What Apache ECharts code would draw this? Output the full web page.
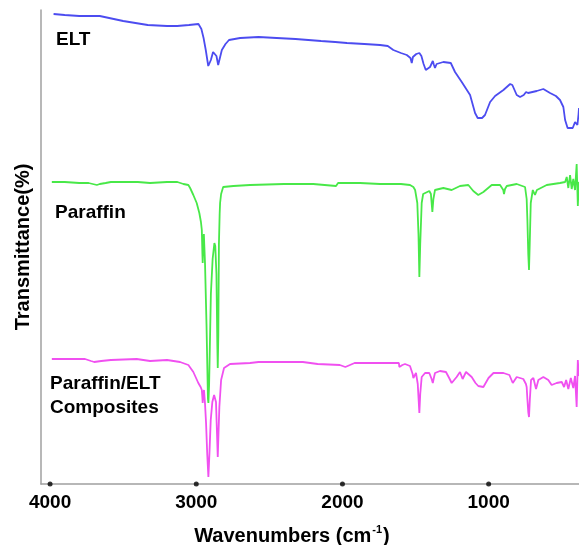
<!DOCTYPE html>
<html>
<head>
<meta charset="utf-8">
<script src="https://cdn.jsdelivr.net/npm/echarts@6/dist/echarts.min.js"></script>
<style>
html,body{margin:0;padding:0;background:#fff;}
#chart{width:579px;height:545px;}
</style>
</head>
<body>
<div id="chart"></div>
<script>
// Wavenumber ticks
var tickValues = [4000, 3000, 2000, 1000];

// ELT spectrum: [wavenumber, transmittance (a.u., offset)]
var eltData = [[3976,470],[3900,469],[3800,468],[3660,468],[3500,463],[3332,459],[3200,458],[3131,458],[3050,459],[2985,460],[2965,455],[2950,446],[2935,434],[2918,418],[2910,416],[2900,424],[2885,432],[2875,433],[2862,428],[2850,419],[2840,425],[2825,434],[2800,440],[2776,444],[2700,446],[2574,447],[2450,446],[2321,445],[2146,443],[2050,442],[1969,441],[1850,440],[1743,439],[1690,438],[1652,434],[1600,431],[1560,429],[1535,426],[1526,421],[1518,427],[1495,430],[1474,431],[1460,428],[1445,420],[1430,414],[1420,413],[1401,417],[1382,423],[1374,419],[1367,416],[1356,420],[1344,422],[1310,422],[1259,421],[1230,412],[1184,402],[1127,389],[1093,371],[1075,366],[1063,365],[1045,366],[1025,369],[990,382],[956,388],[899,394],[853,400],[838,399],[830,397],[808,389],[785,387],[760,389],[744,392],[730,391],[717,390],[671,393],[626,395],[580,391],[540,388],[512,384],[489,377],[477,364],[460,356],[448,355],[425,356],[409,362],[400,360],[393,359],[385,370],[382,376]];

// Paraffin spectrum
var paraffinData = [[3988,302],[3900,302],[3800,301],[3736,301],[3680,299],[3660,300],[3620,301],[3584,302],[3400,302],[3316,301],[3200,302],[3129,302],[3088,300],[3054,299],[3042,296],[3020,289],[2997,281],[2979,271],[2968,262],[2962,254],[2958,230],[2956,221],[2953,240],[2948,250],[2940,220],[2930,160],[2920,85],[2917,81],[2912,100],[2900,190],[2888,225],[2876,241],[2870,238],[2862,210],[2856,140],[2853,116],[2849,150],[2845,240],[2840,270],[2837,281],[2830,290],[2816,297],[2746,298],[2632,299],[2400,300],[2200,300],[2044,298],[2030,301],[1880,301],[1743,300],[1600,300],[1538,299],[1515,297],[1503,294],[1488,281],[1480,250],[1474,207],[1468,240],[1458,281],[1448,290],[1435,292],[1406,293],[1395,290],[1385,272],[1378,285],[1367,294],[1310,296],[1253,294],[1196,298],[1139,299],[1105,293],[1071,289],[1036,292],[979,299],[922,299],[900,294],[895,290],[888,295],[876,298],[808,300],[751,297],[740,285],[735,264],[729,230],[724,214],[719,240],[712,281],[698,294],[683,289],[670,294],[660,296],[603,299],[512,301],[477,302],[466,307],[455,296],[443,309],[432,295],[421,305],[409,294],[398,320],[390,278],[384,300],[382,302]];

// Paraffin/ELT composites spectrum
var compositeData = [[3988,125],[3850,125],[3761,125],[3720,123],[3698,122],[3650,123],[3584,124],[3408,125],[3316,123],[3200,124],[3111,122],[3054,119],[3020,112],[2986,101],[2970,97],[2962,94],[2958,86],[2956,81],[2953,90],[2947,94],[2940,80],[2933,61],[2925,30],[2917,7],[2910,30],[2901,64],[2890,82],[2878,89],[2865,82],[2858,50],[2853,27],[2848,50],[2842,77],[2830,104],[2810,116],[2769,120],[2632,121],[2574,122],[2400,122],[2271,122],[2170,120],[2018,119],[1980,117],[1917,121],[1800,121],[1652,121],[1614,121],[1611,117],[1590,119],[1572,120],[1538,118],[1520,110],[1515,106],[1497,111],[1485,100],[1474,71],[1468,90],[1458,107],[1435,111],[1406,111],[1390,105],[1382,101],[1375,106],[1367,111],[1333,113],[1292,112],[1270,106],[1253,101],[1219,107],[1196,112],[1178,105],[1155,112],[1116,107],[1090,101],[1071,98],[1036,97],[1001,106],[967,111],[899,111],[858,109],[835,101],[808,107],[763,105],[745,100],[740,97],[735,85],[729,72],[724,67],[718,85],[710,104],[694,106],[676,95],[660,104],[626,107],[592,104],[569,99],[535,101],[500,102],[484,97],[470,104],[455,95],[438,106],[421,96],[409,108],[398,77],[390,124],[384,110],[382,108]];

var seriesNames = ['ELT', 'Paraffin', 'Paraffin/ELT Composites'];

var chart = echarts.init(document.getElementById('chart'), null, {renderer: 'canvas'});
var FONT = '"Liberation Sans", Arial, sans-serif';
var labelStyle = {fontFamily: FONT, fontWeight: 'bold', fontSize: 19, fill: '#000'};

var option = {
  backgroundColor: '#fff',
  animation: false,
  grid: {left: 41, right: 0, top: 10, bottom: 61, containLabel: false},
  xAxis: {
    type: 'value', inverse: true, min: 382, max: 4062,
    axisLine: {show: true, lineStyle: {color: '#a0a0a0', width: 1.5}},
    axisTick: {show: false},
    splitLine: {show: false},
    axisLabel: {customValues: tickValues, formatter: function (v) { return String(v); },
      color: '#000', fontWeight: 'bold', fontSize: 19, fontFamily: FONT, margin: 9}
  },
  yAxis: {
    type: 'value', min: 0, max: 474,
    axisLine: {show: true, onZero: false, lineStyle: {color: '#a0a0a0', width: 1.5}},
    axisTick: {show: false}, axisLabel: {show: false}, splitLine: {show: false}
  },
  series: [
    {name: seriesNames[0], type: 'line', data: eltData, showSymbol: false, symbol: 'none',
     lineStyle: {color: '#4c4cf0', width: 1.8}},
    {name: seriesNames[2], type: 'line', data: compositeData, showSymbol: false, symbol: 'none',
     lineStyle: {color: '#f050f0', width: 1.8}},
    {name: seriesNames[1], type: 'line', data: paraffinData, showSymbol: false, symbol: 'none',
     lineStyle: {color: '#48e848', width: 1.8}},
    {type: 'scatter', data: tickValues.map(function (v) { return [v, 0]; }), symbol: 'circle', symbolSize: 5,
     itemStyle: {color: '#000'}, clip: false, silent: true, z: 5}
  ],
  graphic: [
    {type: 'text', left: 56, top: 30, style: Object.assign({text: 'ELT'}, labelStyle)},
    {type: 'text', left: 55, top: 203, style: Object.assign({text: 'Paraffin'}, labelStyle)},
    {type: 'text', left: 50, top: 372, style: Object.assign({text: 'Paraffin/ELT\nComposites', lineHeight: 24}, labelStyle)},
    {type: 'text', x: 23, y: 247, rotation: Math.PI / 2,
     style: {text: 'Transmittance(%)', fontFamily: FONT, fontWeight: 'bold', fontSize: 20, fill: '#000', textAlign: 'center', textVerticalAlign: 'middle'}},
    {type: 'text', x: 292, y: 534,
     style: {text: '{a|Wavenumbers (cm}{s|-1}{a|)}', textAlign: 'center', textVerticalAlign: 'middle',
       rich: {
         a: {fontFamily: FONT, fontWeight: 'bold', fontSize: 20, fill: '#000', color: '#000', lineHeight: 24, verticalAlign: 'bottom'},
         s: {fontFamily: FONT, fontWeight: 'bold', fontSize: 11, fill: '#000', color: '#000', lineHeight: 24, verticalAlign: 'top', padding: [2, 1, 0, 1]}
       }}}
  ]
};
chart.setOption(option);
</script>
</body>
</html>
